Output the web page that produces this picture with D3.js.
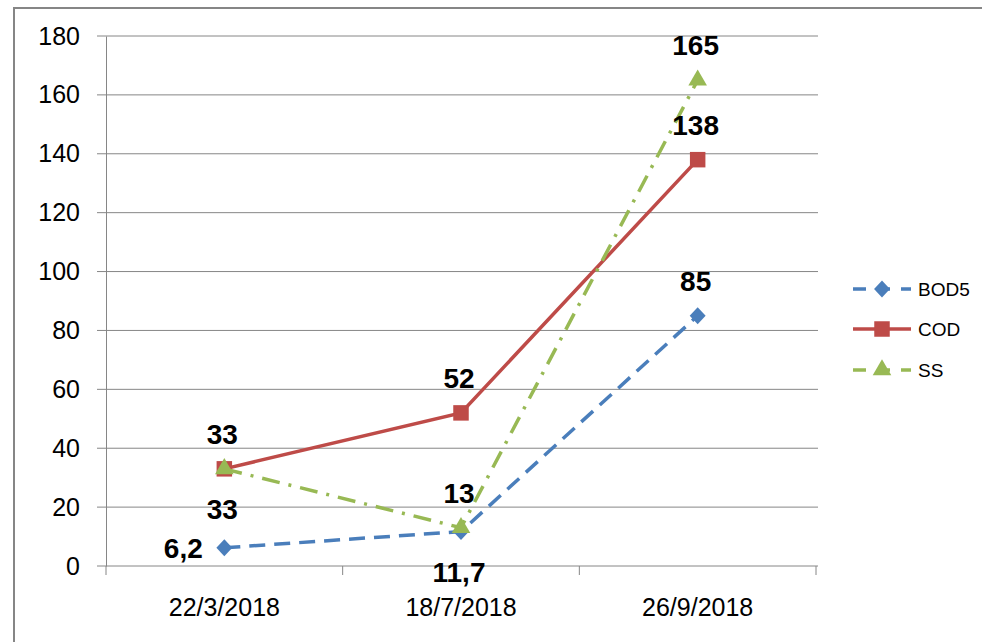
<!DOCTYPE html>
<html>
<head>
<meta charset="utf-8">
<style>
body { margin: 0; background: #fff; }
text { font-family: "Liberation Sans", Arial, sans-serif; fill: #000; }
.tick text { font-size: 25px; }
.lbl { font-size: 28px; font-weight: bold; }
.leg { font-size: 19px; }
</style>
</head>
<body>
<script src="https://cdn.jsdelivr.net/npm/d3@7"></script>
<script>

var dates = ["22/3/2018", "18/7/2018", "26/9/2018"];
var bod5 = [6.2, 11.7, 85];
var cod = [33, 52, 138];
var ss = [33, 13, 165];
var yTicks = [0, 20, 40, 60, 80, 100, 120, 140, 160, 180];

var width = 982, height = 642;
var plotLeft = 106, plotRight = 816, plotTop = 36, plotBottom = 566;

var svg = d3.select("body").append("svg")
    .attr("width", width)
    .attr("height", height);

// chart border (runs off the right and bottom of the picture)
svg.append("rect")
    .attr("x", 14).attr("y", 8)
    .attr("width", 1000).attr("height", 700)
    .attr("fill", "none")
    .attr("stroke", "#868686")
    .attr("stroke-width", 2);

var x = d3.scaleBand().domain(dates).range([plotLeft, plotRight]);
var y = d3.scaleLinear().domain([0, 180]).range([plotBottom, plotTop]);

var grey = "#868686";

// gridlines
svg.append("g").selectAll("line")
    .data(yTicks)
    .enter().append("line")
    .attr("x1", plotLeft - 9).attr("x2", plotRight + 2)
    .attr("y1", function(d) { return y(d); })
    .attr("y2", function(d) { return y(d); })
    .attr("stroke", grey).attr("stroke-width", 1);

// y axis
var yAxis = svg.append("g")
    .attr("transform", "translate(" + plotLeft + ",0)")
    .call(d3.axisLeft(y).tickValues(yTicks).tickSize(0).tickPadding(26));
yAxis.select(".domain").attr("stroke", grey);

// x axis
var xAxis = svg.append("g")
    .attr("transform", "translate(0," + plotBottom + ")")
    .call(d3.axisBottom(x).tickSize(0).tickPadding(32));
xAxis.select(".domain").remove();
xAxis.selectAll(".tick text").attr("dy", "0.71em");

svg.append("g").selectAll("line")
    .data(d3.range(dates.length + 1))
    .enter().append("line")
    .attr("x1", function(i) { return plotLeft + i * x.bandwidth(); })
    .attr("x2", function(i) { return plotLeft + i * x.bandwidth(); })
    .attr("y1", plotBottom).attr("y2", plotBottom + 9)
    .attr("stroke", grey);

function cx(i) { return x(dates[i]) + x.bandwidth() / 2; }

var series = [
  {name: "BOD5", values: bod5, color: "#4a7ebb", dash: "16,9", marker: d3.symbolDiamond, size: 130,
   pos: ["left", "below", "above"]},
  {name: "COD", values: cod, color: "#be4b48", dash: null, marker: d3.symbolSquare, size: 240,
   pos: ["above", "above", "above"]},
  {name: "SS", values: ss, color: "#98b954", dash: "18,9,3,9", marker: d3.symbolTriangle, size: 150,
   pos: ["below", "above", "above"]}
];

var line = d3.line()
    .x(function(d, i) { return cx(i); })
    .y(function(d) { return y(d); });

series.forEach(function(s) {
  svg.append("path")
      .attr("d", line(s.values))
      .attr("fill", "none")
      .attr("stroke", s.color)
      .attr("stroke-width", 3.5)
      .attr("stroke-dasharray", s.dash);

  svg.append("g").selectAll("path")
      .data(s.values)
      .enter().append("path")
      .attr("d", d3.symbol().type(s.marker).size(s.size))
      .attr("transform", function(d, i) {
        var sx = s.name == "BOD5" ? "scale(1.3,0.8)" : "";
        return "translate(" + cx(i) + "," + y(d) + ")" + sx;
      })
      .attr("fill", s.color);
});

// data labels
series.forEach(function(s) {
  svg.append("g").selectAll("text")
      .data(s.values)
      .enter().append("text")
      .attr("class", "lbl")
      .attr("text-anchor", "middle")
      .attr("dy", "0.36em")
      .attr("x", function(d, i) { return s.pos[i] == "left" ? cx(i) - 41 : cx(i) - 2; })
      .attr("y", function(d, i) {
        if (s.pos[i] == "above") return y(d) - 35;
        if (s.pos[i] == "below") return y(d) + 40;
        return y(d);
      })
      .text(function(d) { return String(d).replace(".", ","); });
});

// legend
var leg = svg.append("g");
series.forEach(function(s, i) {
  var ly = [289, 329, 370][i];
  leg.append("line")
      .attr("x1", 853).attr("x2", 911)
      .attr("y1", ly).attr("y2", ly)
      .attr("stroke", s.color)
      .attr("stroke-width", 3.5)
      .attr("stroke-dasharray", s.name == "COD" ? null : "13,11");
  leg.append("path")
      .attr("d", d3.symbol().type(s.marker).size(s.size))
      .attr("transform", "translate(882," + ly + ")" + (s.name == "BOD5" ? "scale(1.3,0.8)" : ""))
      .attr("fill", s.color);
  leg.append("text")
      .attr("class", "leg")
      .attr("x", 918).attr("y", ly)
      .attr("dy", "0.36em")
      .text(s.name);
});

</script>
</body>
</html>
